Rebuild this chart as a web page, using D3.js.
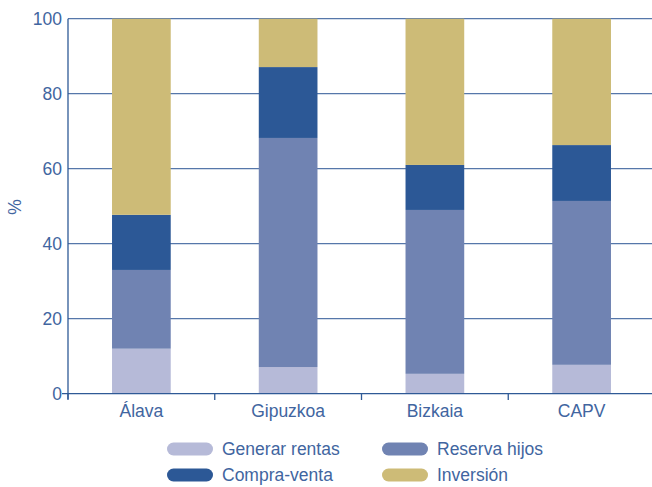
<!DOCTYPE html>
<html><head><meta charset="utf-8">
<script src="https://cdn.jsdelivr.net/npm/d3@7"></script>
<style>body{margin:0;background:#fff}svg{display:block;font-family:"Liberation Sans",Arial,sans-serif}</style>
</head><body><svg id="c" width="652" height="487"></svg>
<script>
const categories = ["Álava", "Gipuzkoa", "Bizkaia", "CAPV"];
const seriesNames = ["Generar rentas", "Reserva hijos", "Compra-venta", "Inversión"];
const generarRentas = [12.0, 7.1, 5.3, 7.7];
const reservaHijos = [21.0, 61.1, 43.7, 43.7];
const compraVenta = [14.7, 18.9, 12.0, 14.9];
const inversion = [52.3, 12.9, 39.0, 33.7];
const yTicks = [0, 20, 40, 60, 80, 100];
const colors = ["#b6bad8", "#7083b2", "#2c5896", "#cdbb77"];

const svg = d3.select("#c");
const axisColor = "#2f5a96", textColor = "#4165a0";
const fs = 17.5;
const x = d3.scaleBand().domain(categories).range([68, 655]).paddingInner(0.6).paddingOuter(0.3);
const y = d3.scaleLinear().domain([0, 100]).range([393.7, 18.7]);

// grid
svg.append("g").selectAll("line").data(yTicks.filter(d => d > 0)).join("line")
  .attr("x1", 68).attr("x2", 652).attr("y1", d => y(d)).attr("y2", d => y(d))
  .attr("stroke", "#5677aa").attr("stroke-width", 1.2);

const rows = categories.map((c, i) => ({cat: c, g: generarRentas[i], r: reservaHijos[i], c: compraVenta[i], v: inversion[i]}));
const stack = d3.stack().keys(["g", "r", "c", "v"])(rows);
svg.append("g").selectAll("g").data(stack).join("g").attr("fill", (d, i) => colors[i])
  .selectAll("rect").data(d => d).join("rect")
  .attr("x", d => x(d.data.cat)).attr("width", x.bandwidth())
  .attr("y", d => y(d[1])).attr("height", d => y(d[0]) - y(d[1]));

// axes
const ya = svg.append("g").attr("transform", "translate(68,0)")
  .call(d3.axisLeft(y).tickValues(yTicks).tickSize(0).tickPadding(6));
ya.select(".domain").attr("stroke", axisColor).attr("stroke-width", 1.3).attr("d", "M0,18.7V399");
ya.selectAll("text").attr("fill", textColor).attr("font-size", fs).attr("font-family", "Liberation Sans, Arial, sans-serif");

const xb = d3.scaleBand().domain(categories).range([68, 655]);
const xa = svg.append("g").attr("transform", "translate(0,393.7)")
  .call(d3.axisBottom(xb).tickSize(0).tickPadding(11));
xa.select(".domain").attr("stroke", axisColor).attr("stroke-width", 1.3).attr("d", "M62,0H652");
xa.selectAll("text").attr("fill", textColor).attr("font-size", fs).attr("font-family", "Liberation Sans, Arial, sans-serif");
svg.append("g").selectAll("line").data(categories).join("line")
  .attr("x1", d => xb(d)).attr("x2", d => xb(d)).attr("y1", 393.7).attr("y2", 400)
  .attr("stroke", axisColor).attr("stroke-width", 1.3);

svg.append("text").attr("transform", "translate(21,207) rotate(-90)").attr("text-anchor", "middle")
  .attr("fill", textColor).attr("font-size", fs).text("%");

// legend
const legPos = [[167, 449], [382, 449], [167, 475], [382, 475]];
const order = [0, 1, 2, 3];
const lg = svg.append("g").selectAll("g").data(order).join("g")
  .attr("transform", (d, i) => `translate(${legPos[i][0]},${legPos[i][1]})`);
lg.append("rect").attr("x", 0).attr("y", -6.5).attr("width", 46).attr("height", 13).attr("rx", 6.5)
  .attr("fill", d => colors[d]);
lg.append("text").attr("x", 55).attr("y", 0).attr("dy", "0.35em").attr("fill", textColor)
  .attr("font-size", fs).text(d => seriesNames[d]);
</script></body></html>
